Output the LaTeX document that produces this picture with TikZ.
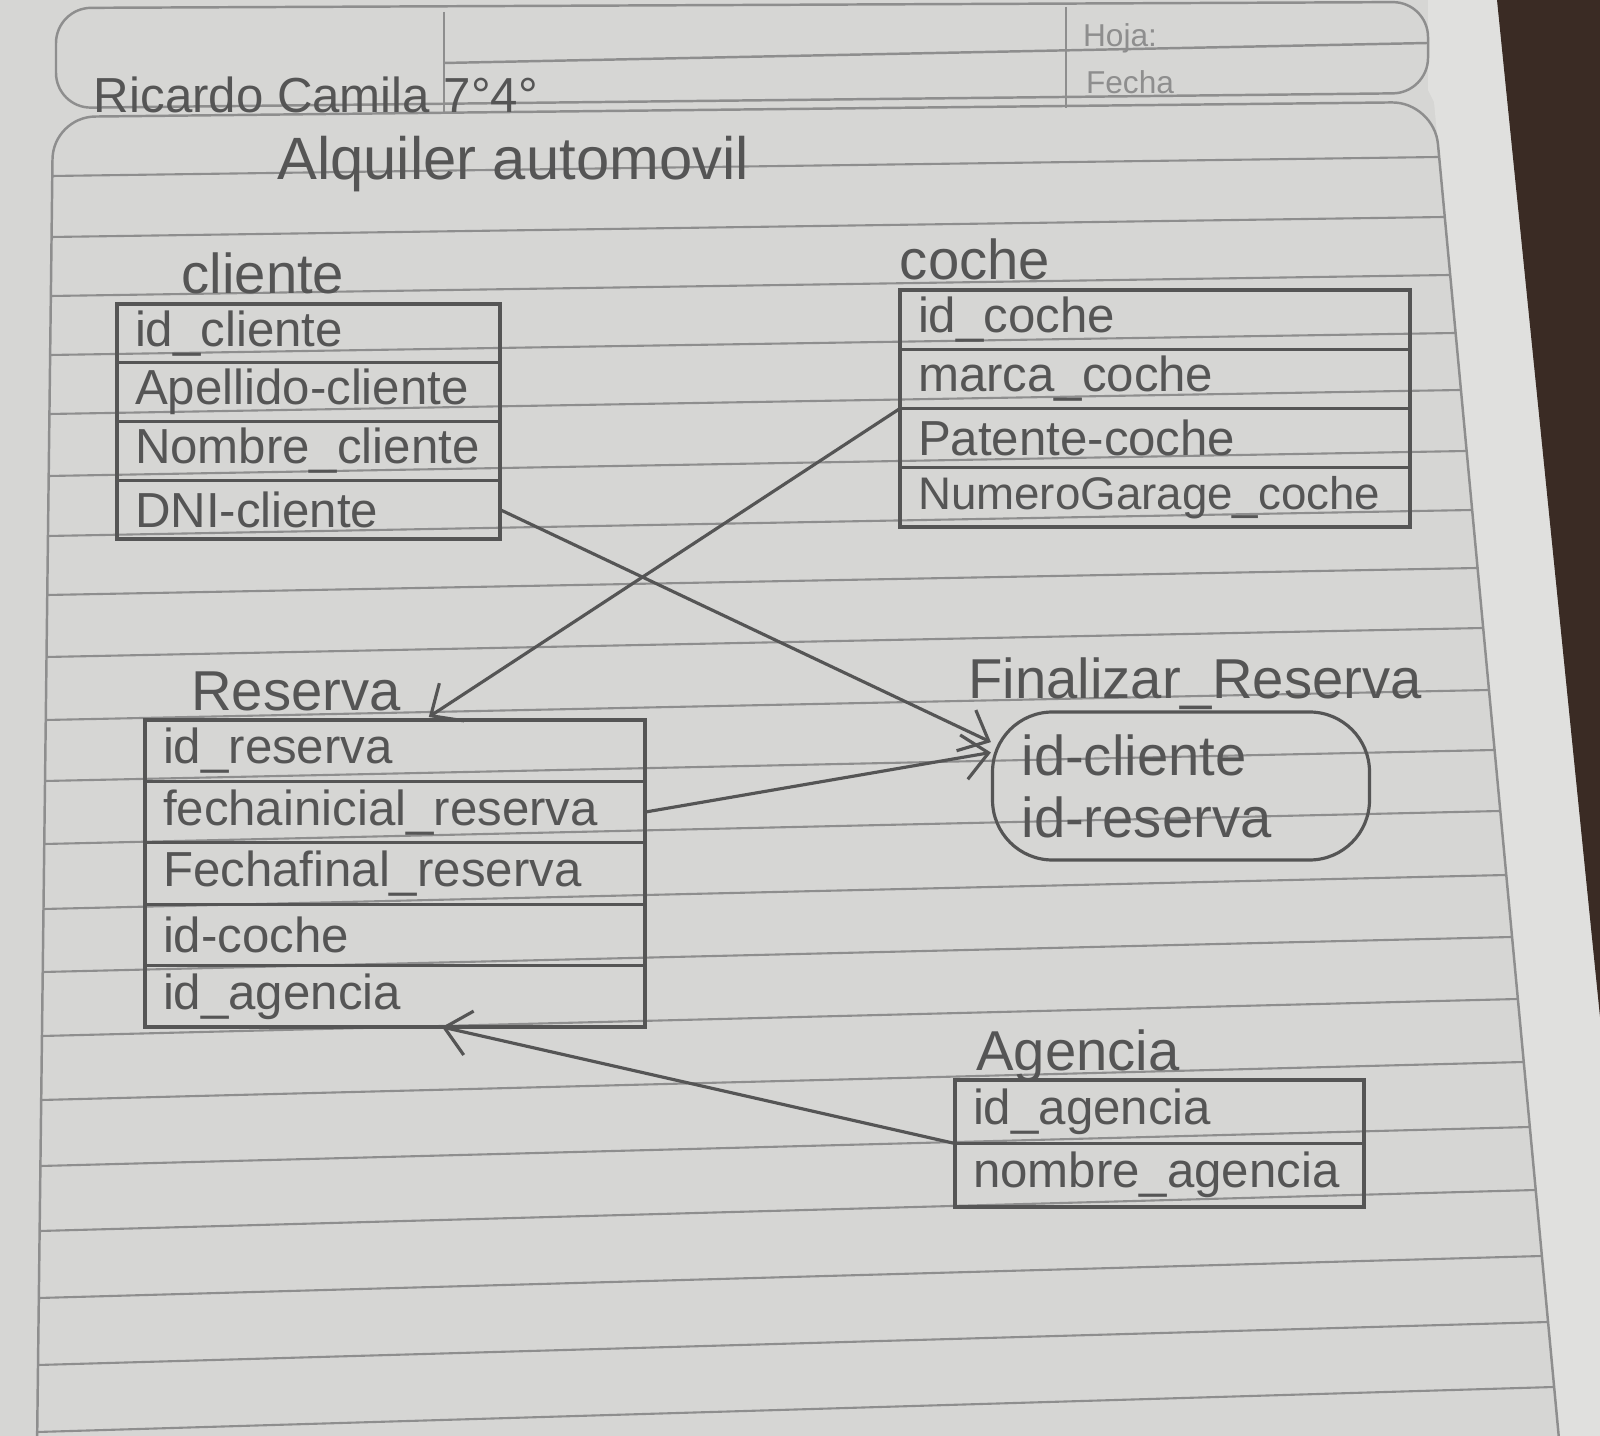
\documentclass[tikz,border=0pt]{standalone}
\usepackage{fontspec}
\setmainfont{Liberation Sans}
\usetikzlibrary{positioning, arrows.meta}

\definecolor{papel}{HTML}{D6D6D4}
\definecolor{margen}{HTML}{E0E0DE}
\definecolor{madera}{HTML}{3A2B24}
\definecolor{lapiz}{HTML}{555555}
\definecolor{renglon}{HTML}{8E8E8E}

\newcommand{\letra}{\fontsize{14}{16}\selectfont}
\newcommand{\letrachica}{\fontsize{13}{15}\selectfont}
\newcommand{\letragrande}{\fontsize{16}{17.6}\selectfont}
\newcommand{\letratema}{\fontsize{17}{19}\selectfont}
\newcommand{\letraimpresa}{\fontsize{9}{11}\selectfont}

\begin{document}
\begin{tikzpicture}[line width=0.9pt]
  \tikzstyle{campo}=[draw=lapiz, text=lapiz, font=\letra, inner xsep=0.18cm, inner ysep=0pt, outer sep=0pt, align=left]
  \tikzstyle{fcli}=[campo, text width=3.47cm, minimum height=0.5875cm]
  \tikzstyle{fcoche}=[campo, text width=4.74cm, minimum height=0.5925cm]
  \tikzstyle{fres}=[campo, text width=4.64cm, minimum height=0.614cm]
  \tikzstyle{fage}=[campo, text width=3.73cm, minimum height=0.635cm]
  \tikzstyle{titulo}=[text=lapiz, font=\letragrande, inner sep=1pt, anchor=base]
  \tikzstyle{impreso}=[text=renglon, font=\letraimpresa]
  \tikzstyle{globo}=[draw=lapiz, text=lapiz, font=\letragrande, rounded corners=0.6cm, minimum width=3.77cm, minimum height=1.48cm, text width=3.19cm, inner xsep=0.29cm, align=left]
  \tikzstyle{flecha}=[color=lapiz, ->, >={Straight Barb[length=2.5mm,width=4.5mm]}]

  \useasboundingbox (0,0) rectangle (16,-14.36);

  % la hoja
  \fill[papel] (0,0) rectangle (16,-14.36);
  \fill[margen] (14.28,0) -- (14.97,0) -- (16,-10.17) -- (16,-14.36) -- (15.58,-14.36) -- (14.34,-1.02) -- (14.28,-0.9) -- cycle;
  \fill[madera] (14.97,0) -- (16,0) -- (16,-10.17) -- cycle;

  % renglones
  \foreach \a/\b in {1.76/1.57, 2.37/2.17, 2.96/2.75, 3.55/3.33, 4.14/3.90, 4.76/4.51,
                     5.36/5.10, 5.95/5.68, 6.57/6.28, 7.20/6.90, 7.81/7.50, 8.44/8.11,
                     9.09/8.75, 9.72/9.37, 10.36/9.99, 11.00/10.62, 11.66/11.27,
                     12.31/11.90, 12.98/12.56, 13.65/13.22, 14.32/13.87}
    \draw[renglon, line width=0.6pt] ({0.53-0.0121*(\a-1.17)},-\a) -- ({14.34+0.093*(\b-1.0)},-\b);

  % encabezado
  \draw[renglon, line width=0.7pt, rounded corners=10pt] (0.56,-0.08) -- (14.28,-0.02) -- (14.28,-0.93) -- (0.56,-1.08) -- cycle;
  \draw[renglon, line width=0.7pt] (4.44,-0.12) -- (4.44,-1.12);
  \draw[renglon, line width=0.7pt] (4.44,-0.63) -- (14.28,-0.43);
  \draw[renglon, line width=0.7pt] (10.66,-0.07) -- (10.66,-1.08);
  \draw[renglon, line width=0.7pt, rounded corners=12pt] (0.37,-14.5) -- (0.53,-1.17) -- (14.34,-1.02) -- (15.6,-14.5);

  \node[impreso] (hoja) at (11.2,-0.38) {Hoja:};
  \node[impreso] (fecha) at (11.3,-0.82) {Fecha};
  \node[titulo, font=\letra] (autor) at (3.16,-1.13) {Ricardo Camila 7°4°};
  \node[titulo, font=\letratema] (tema) at (5.13,-1.80) {Alquiler automovil};

  % cliente
  \node[titulo] (tcli) at (2.63,-2.94) {cliente};
  \node[fcli, anchor=north west] (cl1) at (1.17,-3.04) {id\_cliente};
  \node[fcli, below=0pt of cl1] (cl2) {Apellido-cliente};
  \node[fcli, below=0pt of cl2] (cl3) {Nombre\_cliente};
  \node[fcli, below=0pt of cl3] (cl4) {DNI-cliente};

  % coche
  \node[titulo] (tcoche) at (9.75,-2.80) {coche};
  \node[fcoche, anchor=north west] (co1) at (9.00,-2.90) {id\_coche};
  \node[fcoche, below=0pt of co1] (co2) {marca\_coche};
  \node[fcoche, below=0pt of co2] (co3) {Patente-coche};
  \node[fcoche, below=0pt of co3, font=\letrachica] (co4) {NumeroGarage\_coche};

  % Reserva
  \node[titulo] (tres) at (2.96,-7.11) {Reserva};
  \node[fres, anchor=north west] (re1) at (1.45,-7.20) {id\_reserva};
  \node[fres, below=0pt of re1] (re2) {fechainicial\_reserva};
  \node[fres, below=0pt of re2] (re3) {Fechafinal\_reserva};
  \node[fres, below=0pt of re3] (re4) {id-coche};
  \node[fres, below=0pt of re4] (re5) {id\_agencia};

  % Finalizar Reserva
  \node[titulo] (tfin) at (11.95,-6.99) {Finalizar\_Reserva};
  \node[globo] (fin) at (11.81,-7.86) {id-cliente\\id-reserva};

  % Agencia
  \node[titulo] (tage) at (10.78,-10.70) {Agencia};
  \node[fage, anchor=north west] (ag1) at (9.55,-10.80) {id\_agencia};
  \node[fage, below=0pt of ag1] (ag2) {nombre\_agencia};

  \path[flecha] (co2.south west) edge ([xshift=2.3mm,yshift=-0.6mm]tres.base east)
                (cl4.east) edge (fin.167)
                (re2.east) edge (fin.170)
                (ag1.south west) edge ([xshift=4.7mm]re5.south);
\end{tikzpicture}
\end{document}
